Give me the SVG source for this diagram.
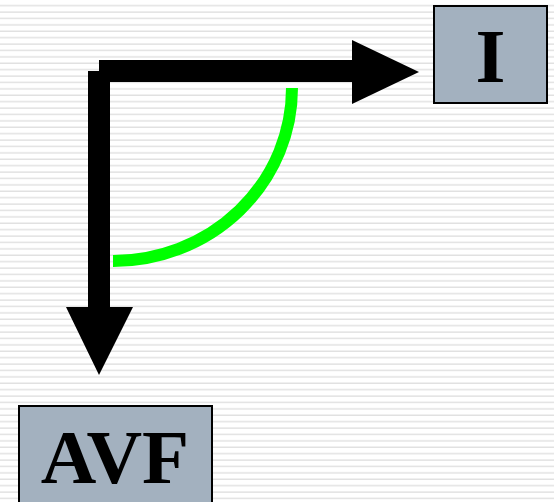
<svg xmlns="http://www.w3.org/2000/svg" width="554" height="502" viewBox="0 0 554 502">
<defs>
<pattern id="stripes" patternUnits="userSpaceOnUse" width="554" height="6.4">
<rect x="0" y="0" width="554" height="6.4" fill="#ffffff"/>
<rect x="0" y="5" width="554" height="1.4" fill="#e0e0e0"/>
</pattern>
<style>
.box{fill:#a3b1bf;stroke:#000;stroke-width:2}
.lbl{font-family:"Liberation Serif","Times New Roman",serif;font-weight:bold;font-size:77px;fill:#000;text-anchor:middle}
.ax{fill:#000}
</style>
</defs>
<rect width="554" height="502" fill="url(#stripes)"/>
<g id="connectors">
<polygon class="ax" points="99,60 352,60 352,40 419,72 352,104 352,82 110,82 110,307 133,307 99,375 66,307 88,307 88,71 99,71"/>
<path d="M292,88 A179,173 0 0 1 113,261" fill="none" stroke="#00ff00" stroke-width="12"/>
</g>
<g id="node-I">
<rect class="box" x="434" y="6" width="113" height="97"/>
<text class="lbl" x="490.5" y="82">I</text>
</g>
<g id="node-AVF">
<rect class="box" x="19" y="406" width="193" height="100"/>
<text class="lbl" x="115" y="483">AVF</text>
</g>
</svg>
